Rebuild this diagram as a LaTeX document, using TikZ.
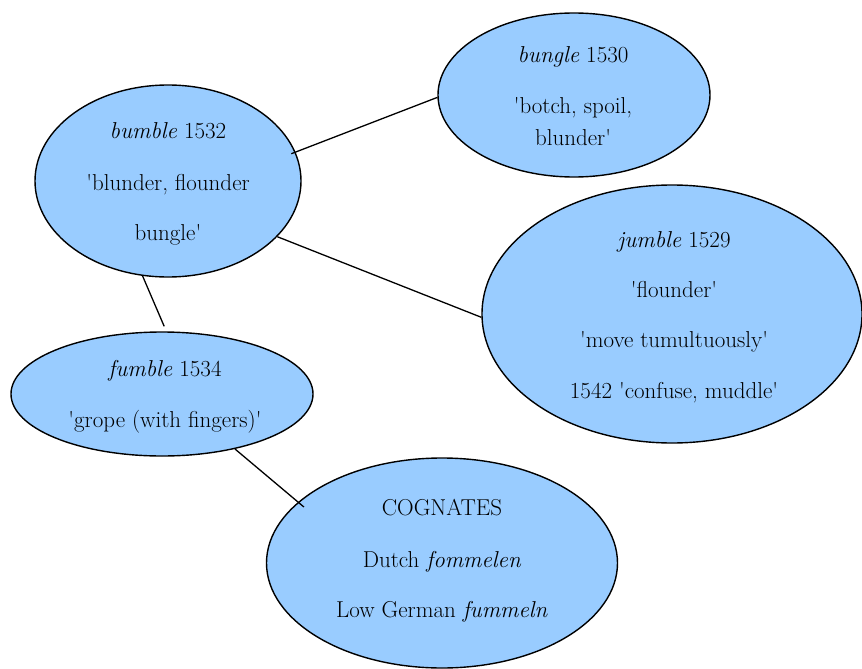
\documentclass[tikz,border=0pt]{standalone}
\usetikzlibrary{shapes.geometric}
\definecolor{bubble}{HTML}{99CCFF}
\newcommand{\sq}{\textquotesingle}
\begin{document}
\begin{tikzpicture}[x=1pt,y=-1pt,
  bub/.style={ellipse,draw=black,line width=1.4pt,fill=bubble,inner sep=0pt},
  txt/.style={anchor=base,inner sep=0pt,font=\fontsize{23}{27}\selectfont},
  link/.style={draw=black,line width=1.3pt}]
\useasboundingbox (0,0) rectangle (862,669);
\node[bub,minimum width=266pt,minimum height=192pt] (bumble) at (168,181) {};
\node[bub,minimum width=272pt,minimum height=164pt] (bungle) at (574,95) {};
\node[bub,minimum width=380pt,minimum height=258pt] (jumble) at (672,314) {};
\node[bub,minimum width=302pt,minimum height=124pt] (fumble) at (162,394) {};
\node[bub,minimum width=351pt,minimum height=210pt] (cogn) at (442,563) {};
% texts
\node[txt] (t1a) at (168,138) {\textit{bumble} 1532};
\node[txt] (t1b) at (168,190) {\sq blunder, flounder};
\node[txt] (t1c) at (168,240) {bungle\sq};
\node[txt] (t2a) at (573,63) {\textit{bungle} 1530};
\node[txt] (t2b) at (573,113) {\sq botch, spoil,};
\node[txt] (t2c) at (573,145) {blunder\sq};
\node[txt] (t3a) at (674,247) {\textit{jumble} 1529};
\node[txt] (t3b) at (674,297) {\sq flounder\sq};
\node[txt] (t3c) at (674,347) {\sq move tumultuously\sq};
\node[txt] (t3d) at (674,398) {1542 \sq confuse, muddle\sq};
\node[txt] (t4a) at (165,376) {\textit{fumble} 1534};
\node[txt] (t4b) at (165,427) {\sq grope (with fingers)\sq};
\node[txt] (t5a) at (442,515) {COGNATES};
\node[txt] (t5b) at (442,567) {Dutch \textit{fommelen}};
\node[txt] (t5c) at (442,617) {Low German \textit{fummeln}};
% connectors
\draw[link] ([shift={(-5pt,0pt)}]bumble.12) -- (bungle.181);
\draw[link] (bumble.-27) -- (jumble.181);
\draw[link] (bumble.255) -- ([shift={(0pt,5pt)}]fumble.88);
\draw[link] (fumble.-37) -- ([shift={(8pt,-3pt)}]cogn.158);
\end{tikzpicture}
\end{document}
